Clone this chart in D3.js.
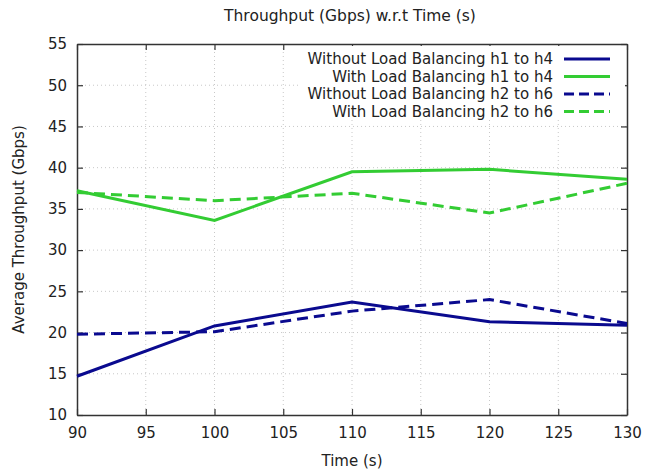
<!DOCTYPE html>
<html>
<head>
<meta charset="utf-8">
<script src="https://cdnjs.cloudflare.com/ajax/libs/d3/7.8.5/d3.min.js"></script>
<style>
  body { margin: 0; background: #fff; }
  text { font-family: "DejaVu Sans", sans-serif; fill: #222; }
</style>
</head>
<body>
<script>
// Data
var times = [90, 100, 110, 120, 130];
var withoutH1H4 = [14.7, 20.8, 23.7, 21.3, 20.9];
var withH1H4 = [37.2, 33.6, 39.5, 39.8, 38.6];
var withoutH2H6 = [19.8, 20.1, 22.6, 24.0, 21.1];
var withH2H6 = [37.0, 36.0, 36.9, 34.5, 38.1];
var xTicks = [90, 95, 100, 105, 110, 115, 120, 125, 130];
var yTicks = [10, 15, 20, 25, 30, 35, 40, 45, 50, 55];

var blue = '#0a0a8f', green = '#33cc33';

var series = [
    { name: 'Without Load Balancing h1 to h4', values: withoutH1H4, color: blue, dash: null },
    { name: 'With Load Balancing h1 to h4', values: withH1H4, color: green, dash: null },
    { name: 'Without Load Balancing h2 to h6', values: withoutH2H6, color: blue, dash: '11,6' },
    { name: 'With Load Balancing h2 to h6', values: withH2H6, color: green, dash: '11,6' }
];

var W = 658, H = 472;
var m = { left: 77, right: 31, top: 44, bottom: 57 };
var iw = W - m.left - m.right, ih = H - m.top - m.bottom;

var svg = d3.select('body').append('svg').attr('width', W).attr('height', H);
var g = svg.append('g').attr('transform', 'translate(' + m.left + ',' + m.top + ')');

var x = d3.scaleLinear().domain([90, 130]).range([0, iw]);
var y = d3.scaleLinear().domain([10, 55]).range([ih, 0]);

// grid
g.selectAll('.gx').data(xTicks.slice(1, -1)).enter().append('line')
    .attr('x1', d => x(d)).attr('x2', d => x(d)).attr('y1', 0).attr('y2', ih)
    .attr('stroke', '#c8c8c8').attr('stroke-dasharray', '1,3');
g.selectAll('.gy').data(yTicks.slice(1, -1)).enter().append('line')
    .attr('y1', d => y(d)).attr('y2', d => y(d)).attr('x1', 0).attr('x2', iw)
    .attr('stroke', '#c8c8c8').attr('stroke-dasharray', '1,3');

// axes (ticks inward, mirrored)
var tickLen = 6;
g.append('g').attr('transform', 'translate(0,' + ih + ')')
    .call(d3.axisBottom(x).tickValues(xTicks).tickSizeInner(-tickLen).tickSizeOuter(0).tickPadding(12));
g.append('g')
    .call(d3.axisTop(x).tickValues(xTicks).tickSizeInner(-tickLen).tickSizeOuter(0).tickFormat(''));
g.append('g')
    .call(d3.axisLeft(y).tickValues(yTicks).tickSizeInner(-tickLen).tickSizeOuter(0).tickPadding(10));
g.append('g').attr('transform', 'translate(' + iw + ',0)')
    .call(d3.axisRight(y).tickValues(yTicks).tickSizeInner(-tickLen).tickSizeOuter(0).tickFormat(''));

g.selectAll('.domain').attr('stroke', '#333').attr('stroke-width', 1.5);
g.selectAll('.tick line').attr('stroke', '#333').attr('stroke-width', 1.2);
g.selectAll('.tick text').style('font-size', '15px').attr('fill', '#222');

// lines
var line = d3.line().x((d, i) => x(times[i])).y(d => y(d));
series.forEach(function(s) {
    g.append('path').datum(s.values)
        .attr('d', line)
        .attr('fill', 'none')
        .attr('stroke', s.color)
        .attr('stroke-width', 3)
        .attr('stroke-dasharray', s.dash);
});

// legend (opaque)
var leg = g.append('g');
leg.append('rect').attr('x', 224).attr('y', 2).attr('width', iw - 226).attr('height', 74).attr('fill', '#fff');
series.forEach(function(s, i) {
    var ly = 15 + i * 17.5;
    leg.append('text').attr('x', 476).attr('y', ly).attr('dy', '0.35em')
        .attr('text-anchor', 'end').style('font-size', '15px').text(s.name);
    leg.append('line').attr('x1', 487).attr('x2', 533).attr('y1', ly).attr('y2', ly)
        .attr('stroke', s.color).attr('stroke-width', 3).attr('stroke-dasharray', s.dash ? '10,5' : null);
});

// titles
svg.append('text').attr('x', 350).attr('y', 21).attr('text-anchor', 'middle')
    .style('font-size', '15.5px').text('Throughput (Gbps) w.r.t Time (s)');
svg.append('text').attr('x', 352).attr('y', 466).attr('text-anchor', 'middle')
    .style('font-size', '15px').text('Time (s)');
svg.append('text').attr('transform', 'translate(24,' + (m.top + ih / 2) + ') rotate(-90)')
    .attr('text-anchor', 'middle').style('font-size', '15px').text('Average Throughput (Gbps)');
</script>
</body>
</html>
